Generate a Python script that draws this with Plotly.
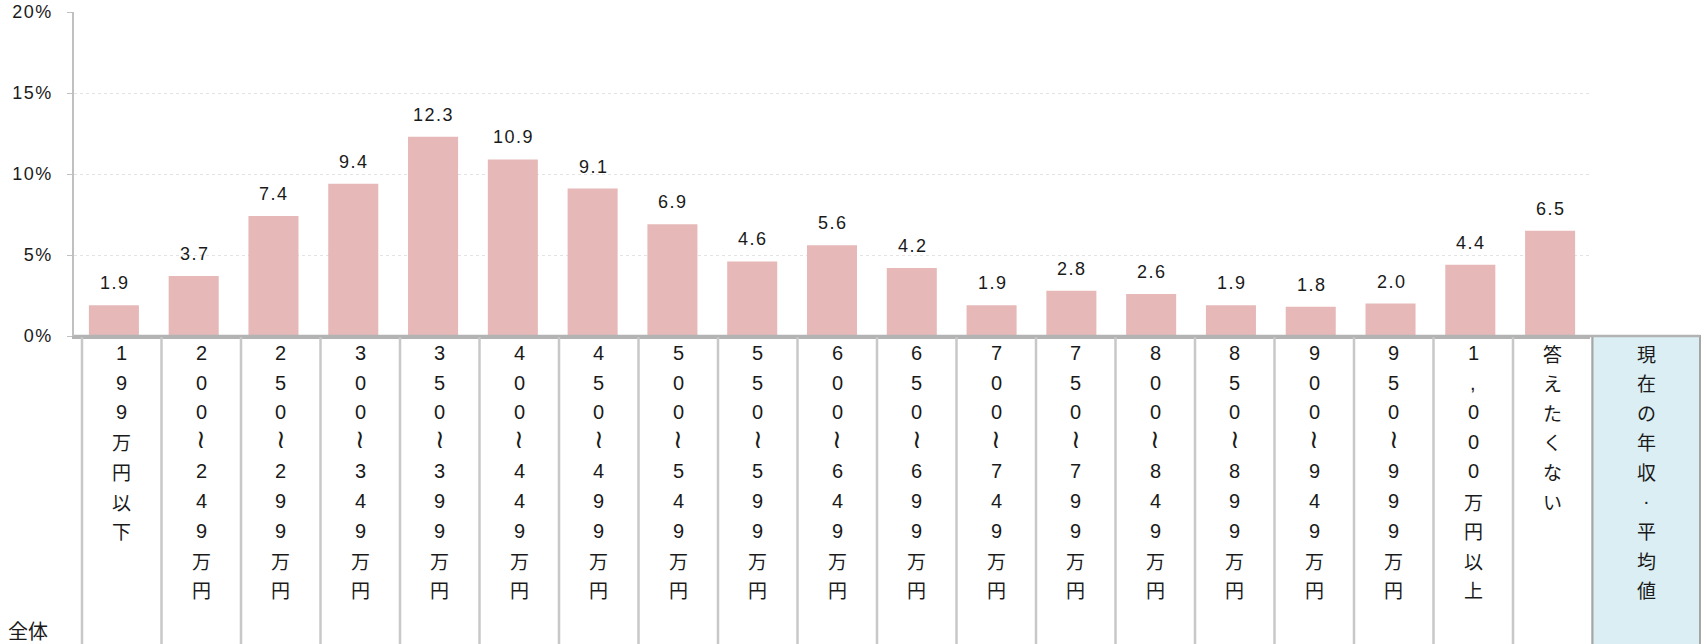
import plotly.graph_objects as go

# ---- data ----
categories = ["199万円以下", "200〜249万円", "250〜299万円", "300〜349万円", "350〜399万円",
              "400〜449万円", "450〜499万円", "500〜549万円", "550〜599万円", "600〜649万円",
              "650〜699万円", "700〜749万円", "750〜799万円", "800〜849万円", "850〜899万円",
              "900〜949万円", "950〜999万円", "1,000万円以上", "答えたくない"]
values = [1.9, 3.7, 7.4, 9.4, 12.3, 10.9, 9.1, 6.9, 4.6, 5.6, 4.2, 1.9, 2.8, 2.6, 1.9, 1.8, 2.0, 4.4, 6.5]
extra_column = "現在の年収・平均値"
row_label = "全体"
y_ticks = [0, 5, 10, 15, 20]
y_tick_text = ["0%", "5%", "10%", "15%", "20%"]

# ---- layout geometry (page pixels; body margin removed via post_script) ----
W, H = 1707, 644
L, R = 74, 1590          # plot area left/right
T, B = 12, 336           # plot area top/bottom
PW, PH = R - L, B - T

def px_x(p):
    return (p - L) / PW

def px_y(p):
    return (B - p) / PH

HS = "\u200a"  # hair space for letter spacing
def spaced(s):
    return HS.join(s)

FONT = "Liberation Sans, Arial, Noto Sans CJK JP, sans-serif"
CJK = "Noto Sans CJK JP, Liberation Sans, sans-serif"
TXT = "#1a1a1a"

fig = go.Figure()
fig.add_trace(go.Bar(
    x=categories, y=values,
    marker=dict(color="#e6b8b7", line=dict(width=0)),
    hoverinfo="skip",
))

annotations = []
# value labels above bars
for c, v in zip(categories, values):
    annotations.append(dict(
        x=c, y=v, xref="x", yref="y", text=spaced(f"{v:.1f}"), showarrow=False,
        yshift=22, yanchor="middle", xanchor="center",
        font=dict(family=FONT, size=18, color=TXT),
    ))

# table under the axis
col0 = 82.0
colw = 79.5
shapes = []
n = len(categories)
for k in range(n + 1):
    xp = col0 + k * colw
    shapes.append(dict(type="line", xref="paper", yref="paper",
                       x0=px_x(xp), x1=px_x(xp), y0=px_y(B), y1=px_y(660),
                       line=dict(color="#c8c8c8", width=2.5), layer="above"))

blue_x0 = col0 + n * colw
blue_x1 = 1700
shapes.append(dict(type="rect", xref="paper", yref="paper",
                   x0=px_x(blue_x0), x1=px_x(blue_x1), y0=px_y(B), y1=px_y(660),
                   fillcolor="#daeef3", line=dict(color="#a6a6a6", width=2), layer="above"))
# axis line continuation
shapes.append(dict(type="line", xref="paper", yref="paper",
                   x0=px_x(L), x1=px_x(blue_x1), y0=px_y(B), y1=px_y(B),
                   line=dict(color="#b3b3b3", width=2.5), layer="above"))

row0 = 353.0
rowh = 29.6
for k, lab in enumerate(categories + [extra_column]):
    if k < n:
        cx = col0 + (k + 0.5) * colw
    else:
        cx = (blue_x0 + blue_x1) / 2
    for j, ch in enumerate(lab):
        if ch == "〜":
            txt, fam, size, dy = "≀", "DejaVu Sans, sans-serif", 26, -3
        elif ch == "・":
            txt, fam, size, dy = "·", FONT, 20, 0
        elif ch.isascii():
            txt, fam, size, dy = ch, FONT, 20, 0
        else:
            txt, fam, size, dy = ch, CJK, 19, 0
        annotations.append(dict(
            x=px_x(cx), y=px_y(row0 + j * rowh + dy), xref="paper", yref="paper",
            text=txt, showarrow=False, xanchor="center", yanchor="middle",
            font=dict(family=fam, size=size, color=TXT),
        ))

annotations.append(dict(
    x=px_x(28), y=px_y(630), xref="paper", yref="paper", text=row_label,
    showarrow=False, xanchor="center", yanchor="middle", borderpad=0,
    font=dict(family=CJK, size=20, color=TXT),
))

fig.update_layout(
    width=W, height=H,
    margin=dict(l=L, r=W - R, t=T, b=H - B, pad=0, autoexpand=False),
    plot_bgcolor="white", paper_bgcolor="white",
    showlegend=False, bargap=0.373,
    annotations=annotations, shapes=shapes,
    xaxis=dict(showticklabels=False, showgrid=False, zeroline=False, automargin=False,
               showline=True, linecolor="#b3b3b3", linewidth=2.5, ticks=""),
    yaxis=dict(range=[0, 20], tickmode="array", tickvals=y_ticks, automargin=False,
               ticktext=[spaced(t) for t in y_tick_text],
               showgrid=True, gridcolor="#e3e3e3", griddash="dot", gridwidth=1,
               zeroline=False, showline=True, linecolor="#c0c0c0", linewidth=2,
               ticks="outside", ticklen=5, tickcolor="#c0c0c0", ticklabelstandoff=12,
               tickfont=dict(family=FONT, size=18, color=TXT)),
)

fig.write_html(
    "out.html",
    config={"displayModeBar": False},
    post_script="document.body.style.margin='0';document.body.style.overflow='hidden';",
)
